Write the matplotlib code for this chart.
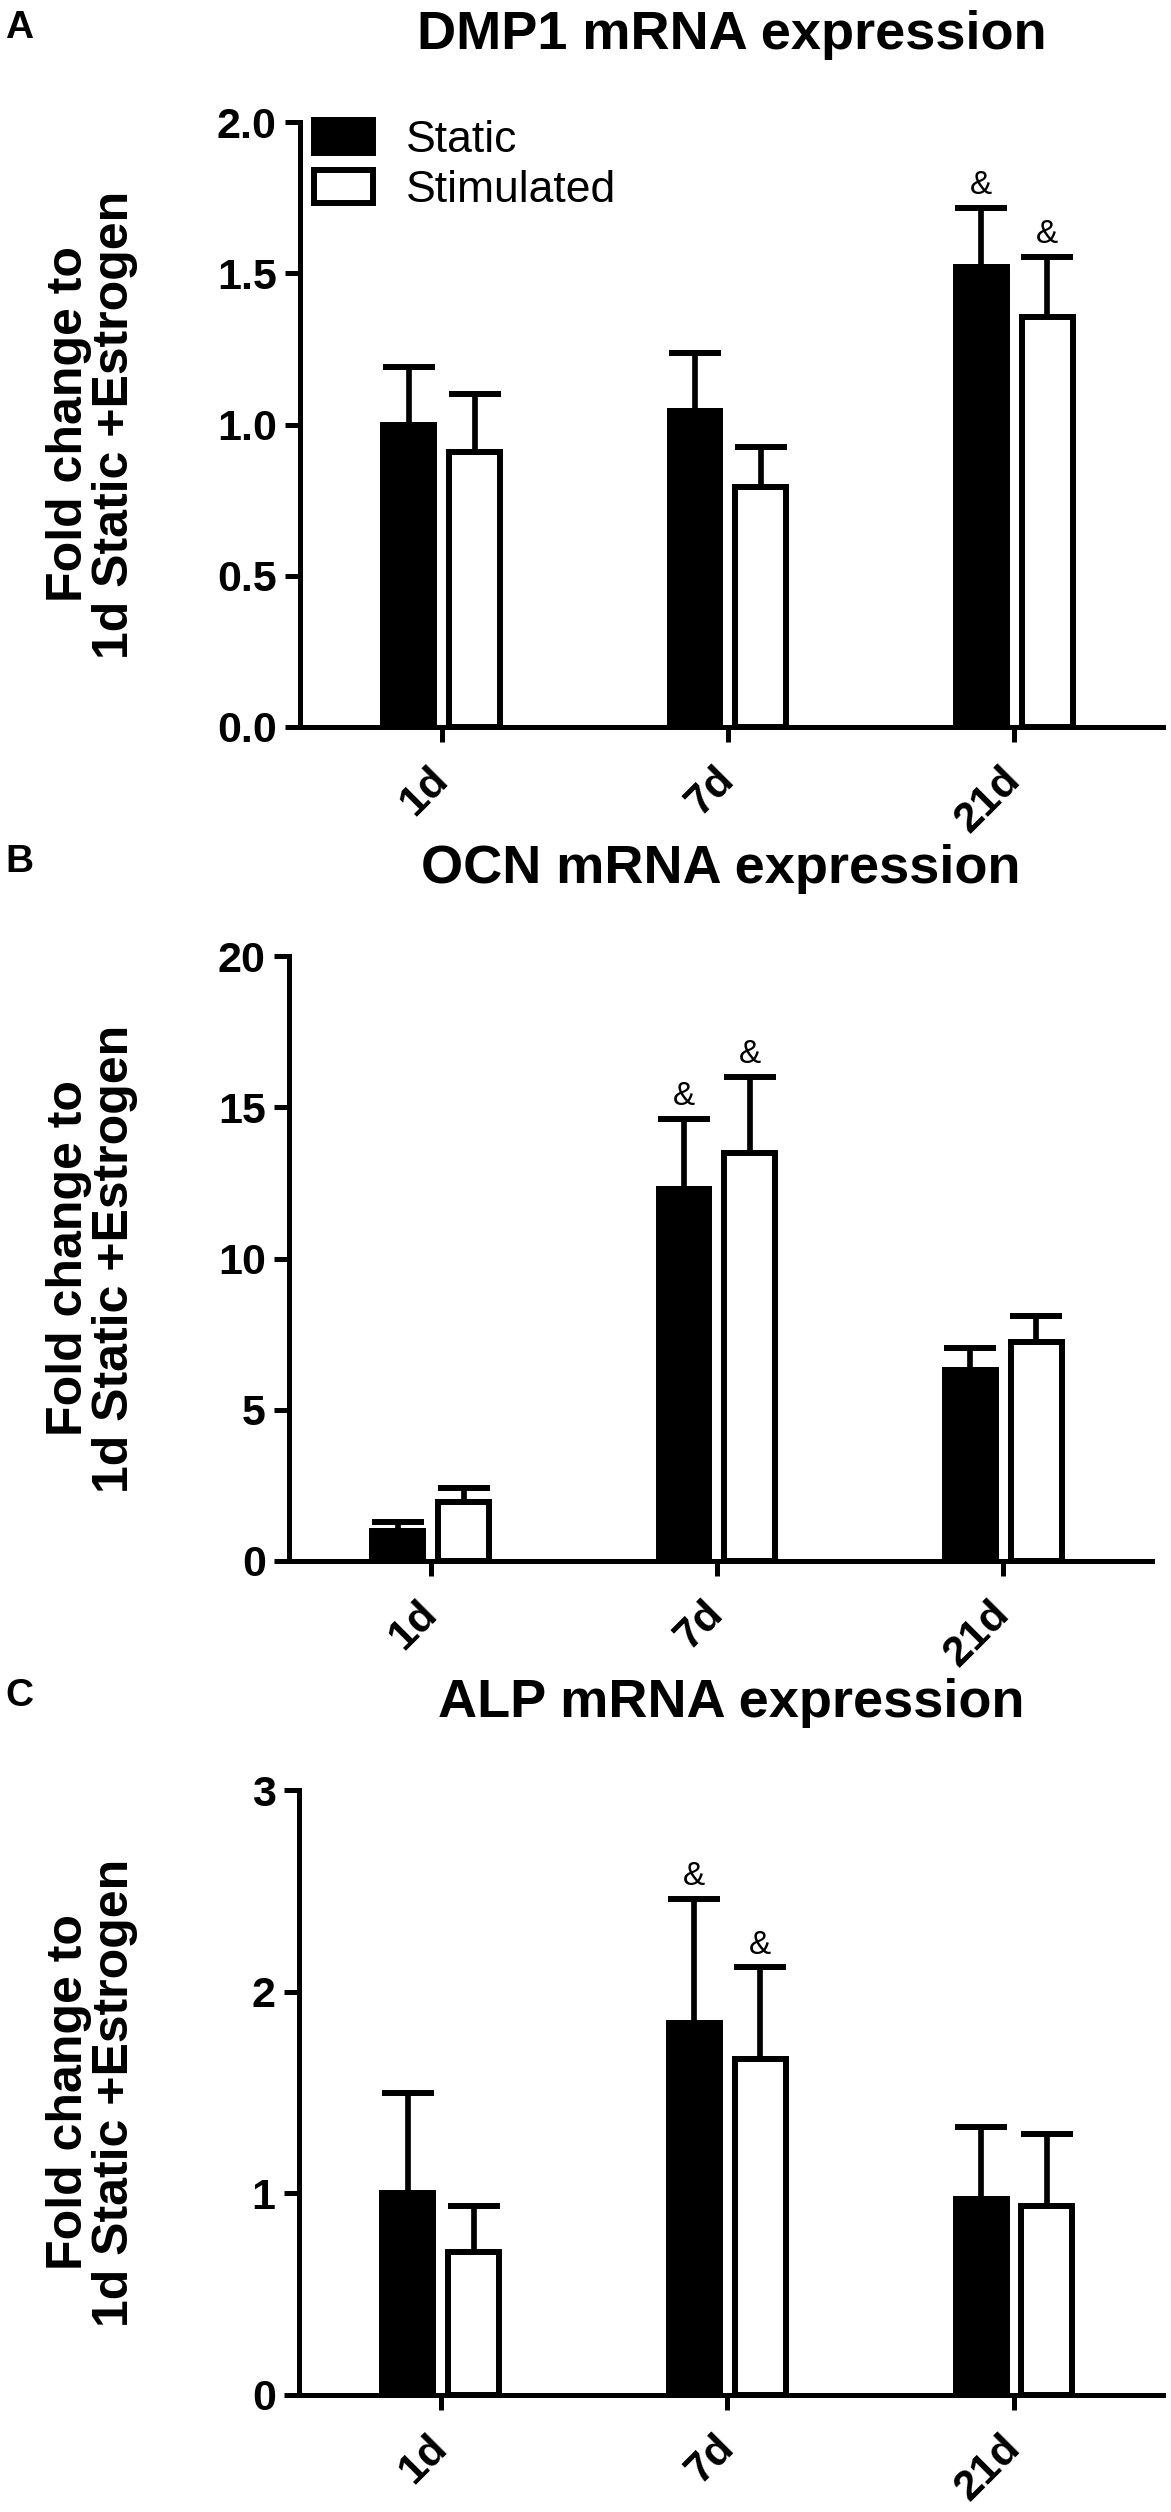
import numpy as np
import matplotlib
matplotlib.use('Agg')
import matplotlib.pyplot as plt
from matplotlib.patches import Patch

plt.rcParams['font.family'] = ['Liberation Sans', 'DejaVu Sans']

# data
days = ['1d', '7d', '21d']
series = ['Static', 'Stimulated']

dmp1_static = [1.00, 1.045, 1.52]
dmp1_static_err = [0.19, 0.19, 0.195]
dmp1_stim = [0.91, 0.795, 1.355]
dmp1_stim_err = [0.19, 0.13, 0.198]
dmp1_sig = [(2, 0), (2, 1)]

ocn_static = [1.0, 12.3, 6.3]
ocn_static_err = [0.3, 2.3, 0.73]
ocn_stim = [1.95, 13.5, 7.25]
ocn_stim_err = [0.45, 2.5, 0.85]
ocn_sig = [(1, 0), (1, 1)]

alp_static = [1.0, 1.845, 0.97]
alp_static_err = [0.50, 0.615, 0.36]
alp_stim = [0.71, 1.665, 0.935]
alp_stim_err = [0.225, 0.455, 0.36]
alp_sig = [(1, 0), (1, 1)]

W, H = 1171, 2512
fig = plt.figure(figsize=(W / 100, H / 100), dpi=100)

LW = 4.3  # outline width, pt


def px_axes(left, right, top, bottom):
    return fig.add_axes([left / W, 1 - bottom / H, (right - left) / W, (bottom - top) / H])


def panel(box, letter, title, stat, stat_err, stim, stim_err, sig, yticks, fmt, legend=False):
    left, right, top, bottom = box
    ax = px_axes(left, right, top, bottom)
    x = np.arange(len(days))
    off, w = 0.115, 0.178
    means = [stat, stim]
    errs = [stat_err, stim_err]
    colors = ['black', 'white']
    for i in range(2):
        xs = x + (-off if i == 0 else off)
        ax.errorbar(xs, means[i], yerr=[np.zeros(len(days)), errs[i]], fmt='none',
                    ecolor='black', elinewidth=4.1, capsize=18.5, capthick=4.3, zorder=2)
        ax.bar(xs, means[i], width=w, color=colors[i], edgecolor='black',
               linewidth=LW, zorder=3, label=series[i])
    for g, s in sig:
        xs = g + (-off if s == 0 else off)
        top_val = means[s][g] + errs[s][g]
        ax.annotate('&', (xs, top_val), xytext=(0, 5), textcoords='offset points',
                    ha='center', va='bottom', fontsize=24)

    ax.set_xlim(-0.495, 2.52)
    ax.set_ylim(0, yticks[-1])
    ax.set_yticks(yticks)
    ax.set_yticklabels([fmt.format(v) for v in yticks])
    ax.set_xticks(x)
    ax.set_xticklabels(days, rotation=45, ha='right', va='center', rotation_mode='anchor')
    for sp in ['top', 'right']:
        ax.spines[sp].set_visible(False)
    for sp in ['left', 'bottom']:
        ax.spines[sp].set_linewidth(3.6)
        ax.spines[sp].set_capstyle('projecting')
    ax.tick_params(direction='out', length=10.8, width=3.6, labelsize=31, pad=6)
    ax.tick_params(axis='x', pad=23)
    for lab in ax.get_xticklabels() + ax.get_yticklabels():
        lab.set_fontweight('bold')

    cx = (left + right) / 2
    fig.text(cx / W, 1 - (top - 73) / H, title, ha='center', va='baseline',
             fontsize=39, fontweight='bold')
    fig.text(5 / W, 1 - (top - 84) / H, letter, ha='left', va='baseline',
             fontsize=28, fontweight='bold')
    fig.text(92 / W, 1 - ((top + bottom) / 2) / H, 'Fold change to\n1d Static +Estrogen',
             rotation=90, ha='center', va='center', multialignment='center',
             fontsize=36, fontweight='bold', linespacing=1.0)

    if legend:
        handles = [Patch(facecolor='black', edgecolor='black', linewidth=LW),
                   Patch(facecolor='white', edgecolor='black', linewidth=LW)]
        ax.legend(handles, series, loc='upper left', bbox_to_anchor=(0.016, 1.003),
                  frameon=False, fontsize=32, borderpad=0, borderaxespad=0,
                  handlelength=1.33, handleheight=0.77, handletextpad=0.75,
                  labelspacing=0.2)
    return ax


panel((300, 1163, 122, 727), 'A', 'DMP1 mRNA expression',
      dmp1_static, dmp1_static_err, dmp1_stim, dmp1_stim_err, dmp1_sig,
      [0, 0.5, 1.0, 1.5, 2.0], '{:.1f}', legend=True)
panel((289, 1152, 956, 1561), 'B', 'OCN mRNA expression',
      ocn_static, ocn_static_err, ocn_stim, ocn_stim_err, ocn_sig,
      [0, 5, 10, 15, 20], '{:d}')
panel((299, 1163, 1790, 2395), 'C', 'ALP mRNA expression',
      alp_static, alp_static_err, alp_stim, alp_stim_err, alp_sig,
      [0, 1, 2, 3], '{:d}')

fig.savefig('out.png', dpi=100)
